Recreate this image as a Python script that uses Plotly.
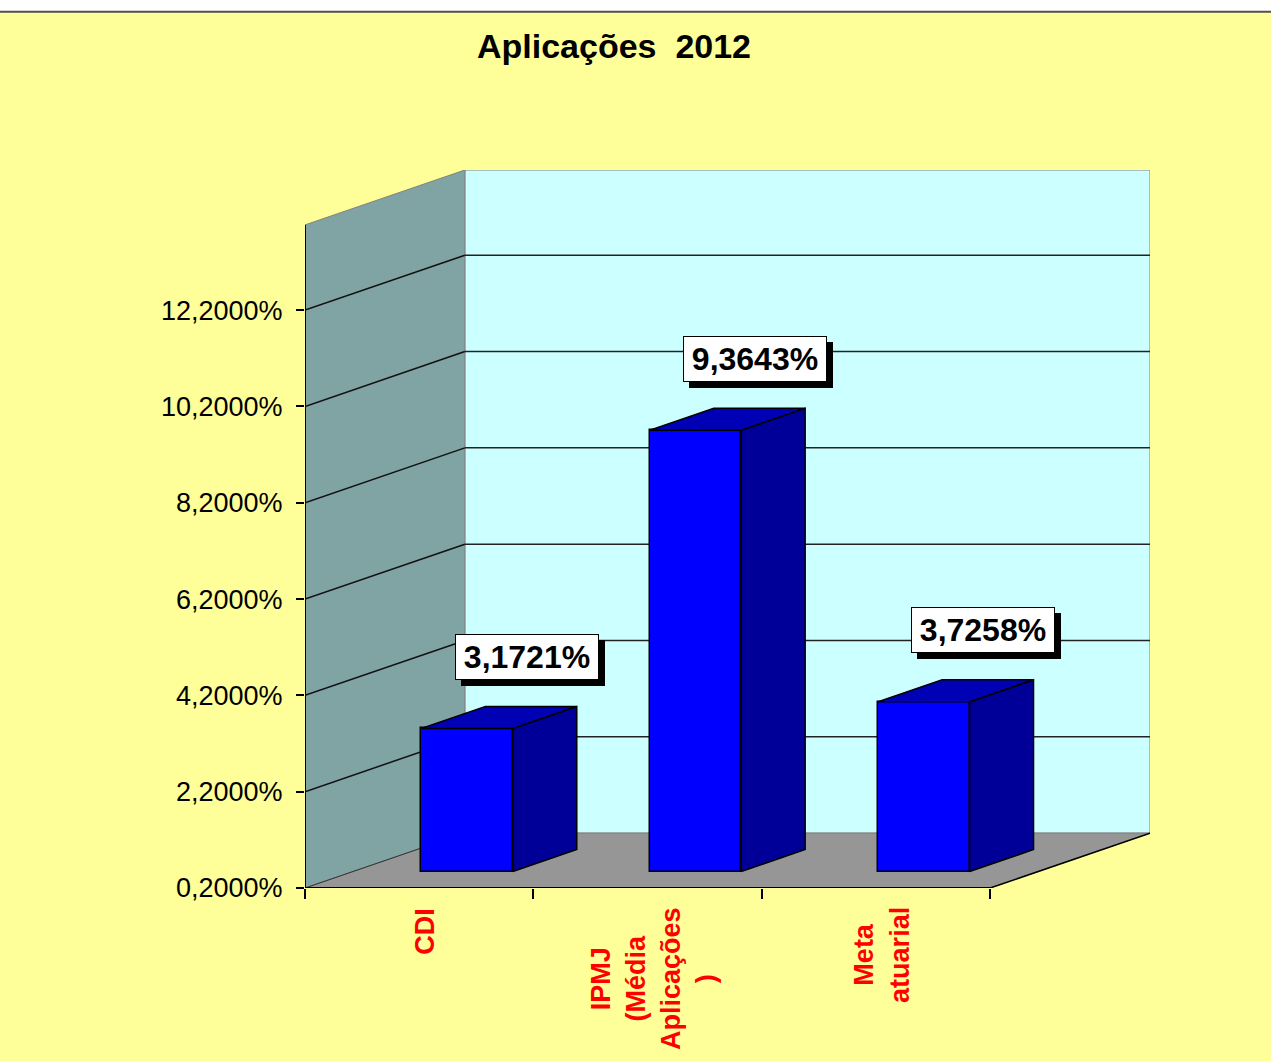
import plotly.graph_objects as go

# ---------------- data ----------------
categories = ["CDI", "IPMJ<br>(Média<br>Aplicações<br>)", "Meta<br>atuarial"]
values = [3.1721, 9.3643, 3.7258]
value_labels = ["3,1721%", "9,3643%", "3,7258%"]
tick_values = [0.2, 2.2, 4.2, 6.2, 8.2, 10.2, 12.2]
tick_labels = ["0,2000%", "2,2000%", "4,2000%", "6,2000%", "8,2000%", "10,2000%", "12,2000%"]
axis_min = 0.2
axis_max = 13.97
title_text = "Aplicações\u00a0\u00a02012"

# ---------------- style / geometry ----------------
FONT = "Liberation Sans, Arial, sans-serif"
DX = 0.70          # depth offset in x units (full depth)
DY = 1.14          # depth offset in y units (full depth)
BAR_W = 0.40
Z0, Z1 = 0.3, 0.7  # bar depth span (fraction of full depth)
NC = len(categories)

YELLOW = "#FFFF99"
BACK = "#CCFFFF"
LEFT = "#80A3A3"
FLOOR = "#969696"
FRONT_BLUE = "#0000FF"
TOP_BLUE = "#0000B4"
SIDE_BLUE = "#000098"

fig = go.Figure()
shapes = []

def poly(pts):
    return "M " + " L ".join(f"{x},{y}" for x, y in pts) + " Z"

# back wall
shapes.append(dict(type="path", xref="x", yref="y", layer="below",
                   path=poly([(DX, axis_min + DY), (DX + NC, axis_min + DY),
                              (DX + NC, axis_max + DY), (DX, axis_max + DY)]),
                   fillcolor=BACK, line=dict(color="#808080", width=1)))
# left wall
shapes.append(dict(type="path", xref="x", yref="y", layer="below",
                   path=poly([(0, axis_min), (DX, axis_min + DY),
                              (DX, axis_max + DY), (0, axis_max)]),
                   fillcolor=LEFT, line=dict(color="#808080", width=1)))
# floor
shapes.append(dict(type="path", xref="x", yref="y", layer="below",
                   path=poly([(0, axis_min), (NC, axis_min),
                              (NC + DX, axis_min + DY), (DX, axis_min + DY)]),
                   fillcolor=FLOOR, line=dict(color="#808080", width=1)))
# gridlines on left and back walls
for v in tick_values[1:]:
    shapes.append(dict(type="line", xref="x", yref="y", layer="below",
                       x0=0, y0=v, x1=DX, y1=v + DY, line=dict(color="#111111", width=1.5)))
    shapes.append(dict(type="line", xref="x", yref="y", layer="below",
                       x0=DX, y0=v + DY, x1=DX + NC, y1=v + DY, line=dict(color="#222222", width=1.5)))
# floor edges
shapes.append(dict(type="line", xref="x", yref="y", layer="below",
                   x0=0, y0=axis_min, x1=DX, y1=axis_min + DY, line=dict(color="#333333", width=1)))
shapes.append(dict(type="line", xref="x", yref="y", layer="below",
                   x0=0, y0=axis_min, x1=NC, y1=axis_min, line=dict(color="#000000", width=2)))
shapes.append(dict(type="line", xref="x", yref="y", layer="below",
                   x0=NC, y0=axis_min, x1=NC + DX, y1=axis_min + DY, line=dict(color="#000000", width=1.5)))
# front vertical axis line
shapes.append(dict(type="line", xref="x", yref="y", layer="below",
                   x0=0, y0=axis_min, x1=0, y1=axis_max, line=dict(color="#000000", width=2)))

# top white band and rule
shapes.append(dict(type="rect", xref="paper", yref="paper", layer="below",
                   x0=-0.5, x1=1.5, y0=1.2205, y1=1.4, fillcolor="white", line=dict(width=0)))
shapes.append(dict(type="line", xref="paper", yref="paper",
                   x0=-0.5, x1=1.5, y0=1.2205, y1=1.2205, line=dict(color="#505050", width=2)))

# ---------------- bars ----------------
centers = [i + 0.5 + Z0 * DX for i in range(NC)]
base = axis_min + Z0 * DY
fig.add_trace(go.Bar(x=centers, y=[v - axis_min for v in values], base=base,
                     width=BAR_W, marker=dict(color=FRONT_BLUE, line=dict(color="black", width=1.5)),
                     hoverinfo="skip", showlegend=False))

ddx = (Z1 - Z0) * DX
ddy = (Z1 - Z0) * DY
for c, v in zip(centers, values):
    xl, xr = c - BAR_W / 2, c + BAR_W / 2
    vt = v + Z0 * DY
    top = [(xl, vt), (xr, vt), (xr + ddx, vt + ddy), (xl + ddx, vt + ddy), (xl, vt)]
    side = [(xr, base), (xr, vt), (xr + ddx, vt + ddy), (xr + ddx, base + ddy), (xr, base)]
    fig.add_trace(go.Scatter(x=[p[0] for p in side], y=[p[1] for p in side], mode="lines",
                             fill="toself", fillcolor=SIDE_BLUE, line=dict(color="black", width=1.5),
                             hoverinfo="skip", showlegend=False))
    fig.add_trace(go.Scatter(x=[p[0] for p in top], y=[p[1] for p in top], mode="lines",
                             fill="toself", fillcolor=TOP_BLUE, line=dict(color="black", width=1.5),
                             hoverinfo="skip", showlegend=False))

annotations = []
# data labels with shadow
for i, (v, lab) in enumerate(zip(values, value_labels)):
    ax = i + 0.5 + 0.47
    ay = v + 1.83
    annotations.append(dict(x=ax, y=ay, xref="x", yref="y", text=" ", showarrow=False,
                            font=dict(family=FONT, size=32, color="black"),
                            bgcolor="black", bordercolor="black", borderwidth=1,
                            width=140, height=42, xshift=6, yshift=-6))
    annotations.append(dict(x=ax, y=ay, xref="x", yref="y", text=lab, showarrow=False,
                            font=dict(family=FONT, size=32, color="black", weight="bold"),
                            bgcolor="white", bordercolor="black", borderwidth=1,
                            width=140, height=42))
# category labels
for i, cat in enumerate(categories):
    annotations.append(dict(x=i + 0.525, y=-0.024, xref="x", yref="paper", text=cat,
                            showarrow=False, textangle=-90, yanchor="top", xanchor="center",
                            align="center",
                            font=dict(family=FONT, size=27, color="#FF0000", weight="bold")))

fig.update_layout(
    width=1271, height=1061, autosize=False,
    margin=dict(l=305, r=121, t=170, b=173),
    paper_bgcolor=YELLOW, plot_bgcolor=YELLOW,
    title=dict(text=title_text, x=614 / 1271, xref="container", xanchor="center",
               y=1 - 46 / 1061, yref="container", yanchor="middle",
               font=dict(family=FONT, size=34, color="black", weight="bold")),
    shapes=shapes, annotations=annotations, bargap=0,
    xaxis=dict(range=[0, NC + DX], showgrid=False, zeroline=False, showline=False,
               tickvals=list(range(NC + 1)), ticktext=[""] * (NC + 1), ticks="outside",
               ticklen=10, tickwidth=1.5, tickcolor="black", fixedrange=True),
    yaxis=dict(range=[axis_min, axis_max + DY], showgrid=False, zeroline=False, showline=False,
               tickvals=tick_values, ticktext=tick_labels, ticks="outside", ticklen=8,
               tickwidth=1.5, tickcolor="black", ticklabelstandoff=8,
               tickfont=dict(family=FONT, size=27, color="black"), fixedrange=True),
)

fig.write_html("out.html", config={"displayModeBar": False},
               post_script="document.body.style.margin='0';document.body.style.overflow='hidden';")
